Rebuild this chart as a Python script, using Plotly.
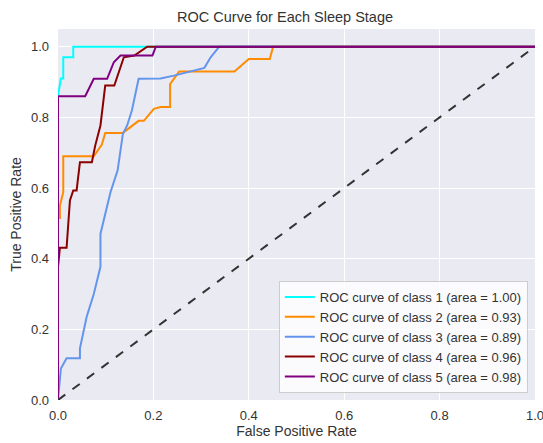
import plotly.graph_objects as go

# ROC data
fpr1 = [0, 0, 0.006, 0.011, 0.011, 0.032, 0.032, 1.0]
tpr1 = [0, 0.86, 0.91, 0.91, 0.97, 0.97, 1.0, 1.0]

fpr2 = [0, 0, 0.004, 0.004, 0.011, 0.011, 0.075, 0.092, 0.099, 0.136, 0.169, 0.18, 0.201,
        0.215, 0.235, 0.235, 0.254, 0.37, 0.40, 0.444, 0.451, 1.0]
tpr2 = [0, 0.515, 0.515, 0.55, 0.588, 0.69, 0.69, 0.723, 0.756, 0.756, 0.79, 0.79, 0.824,
        0.829, 0.829, 0.894, 0.93, 0.93, 0.965, 0.965, 1.0, 1.0]

fpr3 = [0, 0.006, 0.018, 0.046, 0.046, 0.06, 0.075, 0.089, 0.089, 0.11, 0.125, 0.136, 0.145,
        0.155, 0.169, 0.215, 0.243, 0.307, 0.32, 0.338, 1.0]
tpr3 = [0, 0.089, 0.118, 0.118, 0.146, 0.235, 0.30, 0.377, 0.47, 0.588, 0.65, 0.753, 0.777,
        0.82, 0.909, 0.91, 0.918, 0.94, 0.97, 1.0, 1.0]

fpr4 = [0, 0, 0.004, 0.018, 0.025, 0.032, 0.039, 0.046, 0.071, 0.078, 0.089, 0.099, 0.118,
        0.138, 0.16, 0.187, 1.0]
tpr4 = [0, 0.377, 0.431, 0.431, 0.565, 0.593, 0.593, 0.673, 0.673, 0.72, 0.777, 0.89, 0.89,
        0.97, 0.975, 1.0, 1.0]

fpr5 = [0, 0, 0.057, 0.075, 0.103, 0.117, 0.131, 0.198, 0.205, 1.0]
tpr5 = [0, 0.86, 0.86, 0.909, 0.909, 0.956, 0.975, 0.975, 1.0, 1.0]

areas = [1.00, 0.93, 0.89, 0.96, 0.98]
colors = ["#00FFFF", "#FF8C00", "#6495ED", "#8B0000", "#800080"]
fprs = [fpr1, fpr2, fpr3, fpr4, fpr5]
tprs = [tpr1, tpr2, tpr3, tpr4, tpr5]

diag = [0, 1]
ticks = [0, 0.2, 0.4, 0.6, 0.8, 1.0]
tick_text = ["0.0", "0.2", "0.4", "0.6", "0.8", "1.0"]

FONT = "Arial, Liberation Sans, sans-serif"
TXT = "#333333"
fig = go.Figure()
for i in range(5):
    fig.add_trace(go.Scatter(
        x=fprs[i], y=tprs[i], mode="lines",
        line=dict(color=colors[i], width=2),
        name=f"ROC curve of class {i+1} (area = {areas[i]:.2f})",
    ))
fig.add_trace(go.Scatter(x=diag, y=diag, mode="lines",
                         line=dict(color="#333333", width=2, dash="dash"),
                         showlegend=False))

fig.update_layout(
    width=543, height=443,
    margin=dict(l=58, r=8, t=29, b=43),
    paper_bgcolor="white", plot_bgcolor="#EAEAF2",
    font=dict(family=FONT, size=13, color=TXT),
    title=dict(text="ROC Curve for Each Sleep Stage", x=0.525, xanchor="center",
               y=0.962, yanchor="middle", font=dict(size=14.5, color=TXT)),
    legend=dict(x=0.985, y=0.019, xanchor="right", yanchor="bottom",
                bgcolor="rgba(255,255,255,0.8)", bordercolor="#CCCCCC", borderwidth=1,
                font=dict(size=13, color=TXT)),
)
fig.update_xaxes(range=[0, 1], tickvals=ticks, ticktext=tick_text, automargin=False,
                 showgrid=True, gridcolor="white", gridwidth=1, zeroline=False,
                 showline=False, ticks="", ticklabelstandoff=6, ticklabeloverflow="allow",
                 title=dict(text="False Positive Rate", standoff=2, font=dict(size=14)))
fig.update_yaxes(range=[0, 1.05], tickvals=ticks, ticktext=tick_text, automargin=False,
                 showgrid=True, gridcolor="white", gridwidth=1, zeroline=False,
                 showline=False, ticks="", ticklabelstandoff=8, ticklabeloverflow="allow",
                 title=dict(text="True Positive Rate", standoff=6, font=dict(size=14)))

fig.write_html("out.html")
